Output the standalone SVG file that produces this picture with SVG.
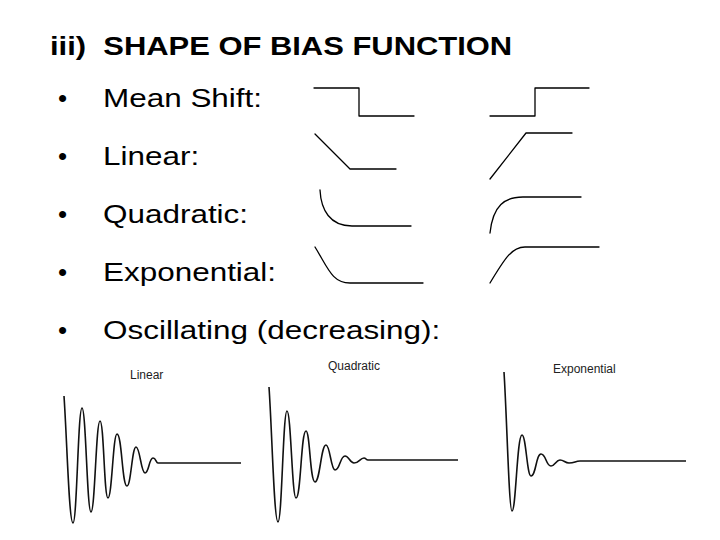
<svg xmlns="http://www.w3.org/2000/svg" width="720" height="540" viewBox="0 0 720 540">
<style>
.t{font-family:"Liberation Sans",Arial,sans-serif;font-size:26px;fill:#000}
.s{font-family:"Liberation Sans",Arial,sans-serif;font-size:12px;fill:#222}
.l{fill:none;stroke:#000;stroke-width:1.3;stroke-linejoin:round;stroke-linecap:round}
.w{fill:none;stroke:#111;stroke-width:1.6;stroke-linejoin:round}
</style>
<rect width="720" height="540" fill="#fff"/>
<text class="t" transform="translate(50,55) scale(1.19,1)" font-size="27" font-weight="bold" xml:space="preserve">iii)  SHAPE OF BIAS FUNCTION</text>
<g class="t">
<text x="58" y="107">•</text><text transform="translate(103,107) scale(1.21,1)">Mean Shift:</text>
<text x="58" y="165">•</text><text transform="translate(103,165) scale(1.21,1)">Linear:</text>
<text x="58" y="223">•</text><text transform="translate(103,223) scale(1.21,1)">Quadratic:</text>
<text x="58" y="281">•</text><text transform="translate(103,281) scale(1.21,1)">Exponential:</text>
<text x="58" y="339">•</text><text transform="translate(103,339) scale(1.21,1)">Oscillating (decreasing):</text>
</g>
<g class="l">
<path d="M314,88H359V116H414"/>
<path d="M490,116H535V88H589"/>
<path d="M315,134L350,169H396"/>
<path d="M490,179L526,133H572"/>
<path d="M320,190C321,210 330,226 352,226H411"/>
<path d="M490,233C493,205 505,197 523,197H581"/>
<path d="M315,247C328,268 332,283 350,283H423"/>
<path d="M490,283C505,258 512,247 525,247H599"/>
</g>
<g class="s">
<text x="130" y="379">Linear</text>
<text x="328" y="370">Quadratic</text>
<text x="553" y="373">Exponential</text>
</g>
<g class="w">
<path d="M64,396C67,440 69,523 73,523C77,523 78,408 82,408C86,408 87,512 91,512C95,512 96,421 100,421C104,421 104,498 108,498C112,498 113,434 117,434C122,434 122,486 127,486C131,486 132,447 136,447C140,447 141,473 145,473C149,473 149,458 153,458C156,458 156,463 158,463L241,463"/>
<path d="M269,387C272,430 274,522 278,522C282,522 283,411 287,411C291,411 292,498 296,498C301,498 301,431 306,431C310,431 310,482 315,482C320,482 321,445 326,445C330,445 331,470 335,470C340,470 340,456 345,456C349,456 350,463 354,463C359,463 360,458 364,458C366,458 366,460 368,460L458,460"/>
<path d="M504,372C507,420 509,511 512,511C516,511 517,435 522,435C526,435 527,476 531,476C536,476 536,454 541,454C546,454 546,466 551,466C555,466 556,460 560,460C564,460 565,463 569,463C575,463 575,461 580,461L686,461"/>
</g>
</svg>
